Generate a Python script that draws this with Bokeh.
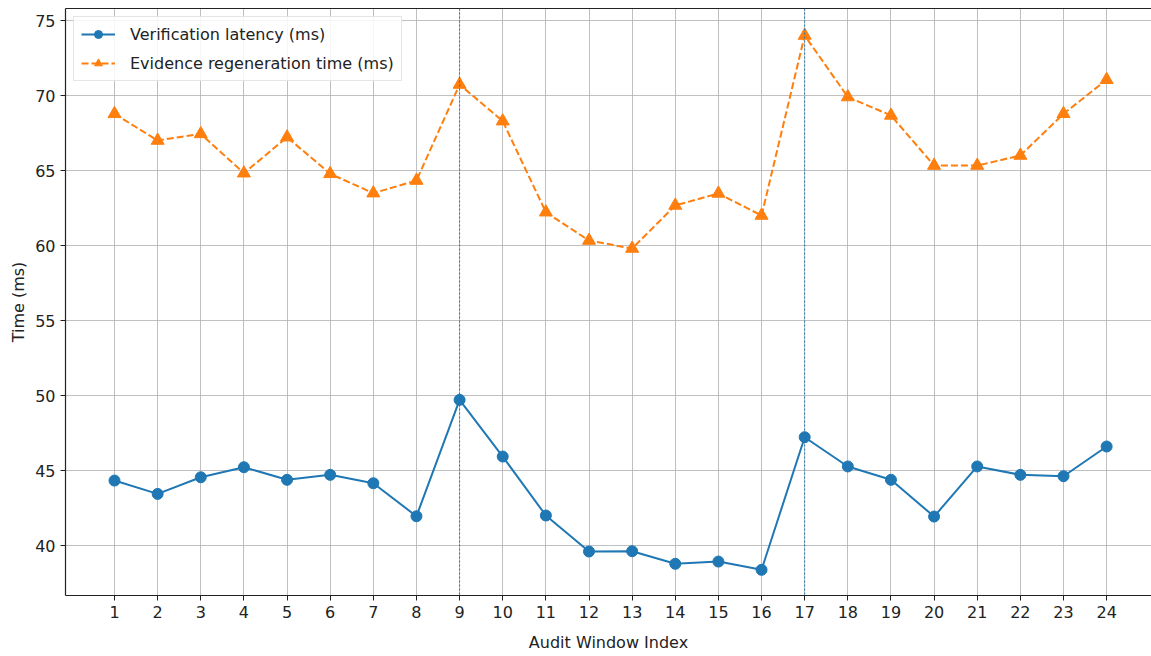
from bokeh.plotting import figure
from bokeh.models import FixedTicker, Span, Legend, LegendItem, LinearAxis, Range1d
from bokeh.embed import file_html
from bokeh.resources import INLINE

windows = list(range(1, 25))
verification_latency = [44.33, 43.44, 44.55, 45.22, 44.38, 44.71, 44.15, 41.95, 49.71, 45.93,
                        42.0, 39.6, 39.62, 38.78, 38.93, 38.38, 47.22, 45.27, 44.38, 41.93,
                        45.27, 44.71, 44.62, 46.6]
regeneration_time = [68.78, 67.0, 67.44, 64.82, 67.22, 64.78, 63.49, 64.33, 70.73, 68.29,
                     62.22, 60.33, 59.8, 62.67, 63.47, 62.0, 74.0, 69.9, 68.67, 65.33,
                     65.33, 66.0, 68.78, 71.05]
marked_windows = [9, 17]
y_ticks = [40, 45, 50, 55, 60, 65, 70, 75]

FONT = "DejaVu Sans"
BLUE = "#1f77b4"
ORANGE = "#ff7f0e"

p = figure(width=1151, height=656, output_backend="svg", toolbar_location=None,
           x_range=Range1d(-0.136, 25.04), y_range=Range1d(36.667, 75.8),
           min_border_left=65, min_border_right=0, min_border_top=8, min_border_bottom=61)
p.outline_line_color = None
p.background_fill_color = "white"
p.border_fill_color = "white"

for ax in (p.xaxis[0], p.yaxis[0]):
    ax.axis_line_color = "#222222"
    ax.axis_line_width = 1.2
    ax.major_tick_line_color = "#222222"
    ax.major_tick_out = 5
    ax.major_tick_in = 0
    ax.minor_tick_line_color = None
    ax.major_label_text_font = FONT
    ax.major_label_text_font_size = "16px"
    ax.major_label_text_color = "#222222"
    ax.axis_label_text_font = FONT
    ax.axis_label_text_font_size = "16px"
    ax.axis_label_text_font_style = "normal"
    ax.axis_label_text_color = "#222222"

p.xaxis.ticker = FixedTicker(ticks=windows)
p.yaxis.ticker = FixedTicker(ticks=y_ticks)
p.xaxis.axis_label = "Audit Window Index"
p.yaxis.axis_label = "Time (ms)"
p.xaxis.major_label_standoff = 5
p.xaxis.axis_label_standoff = 12
p.yaxis.major_label_standoff = 5
p.yaxis.axis_label_standoff = 4

top = LinearAxis(ticker=FixedTicker(ticks=[]), major_label_text_font_size="0px",
                 major_tick_out=0, major_tick_in=0, minor_tick_out=0, minor_tick_in=0,
                 major_label_standoff=0, axis_line_color="#222222", axis_line_width=1.2)
p.add_layout(top, "above")

p.grid.grid_line_color = "#b0b0b0"
p.grid.grid_line_width = 1
p.grid.grid_line_alpha = 0.8

for xv in marked_windows:
    p.add_layout(Span(location=xv, dimension="height", line_color=BLUE,
                      line_width=1, line_dash="2 2"))

l1 = p.line(windows, verification_latency, line_color=BLUE, line_width=2)
s1 = p.scatter(windows, verification_latency, marker="circle", size=11,
               fill_color=BLUE, line_color=BLUE)
l2 = p.line(windows, regeneration_time, line_color=ORANGE, line_width=2, line_dash="7 3")
s2 = p.scatter(windows, regeneration_time, marker="triangle", size=13,
               fill_color=ORANGE, line_color=ORANGE)

legend = Legend(items=[
    LegendItem(label="Verification latency (ms)", renderers=[l1, s1]),
    LegendItem(label="Evidence regeneration time (ms)", renderers=[l2, s2]),
], location="top_left")
legend.label_text_font = FONT
legend.label_text_font_size = "16px"
legend.label_text_color = "#222222"
legend.glyph_width = 34
legend.glyph_height = 20
legend.label_standoff = 15
legend.spacing = 9
legend.padding = 7
legend.margin = 8
legend.border_line_color = "#cccccc"
legend.border_line_width = 1
legend.background_fill_alpha = 0.85
p.add_layout(legend)

open("out.html", "w").write(file_html(p, INLINE))
